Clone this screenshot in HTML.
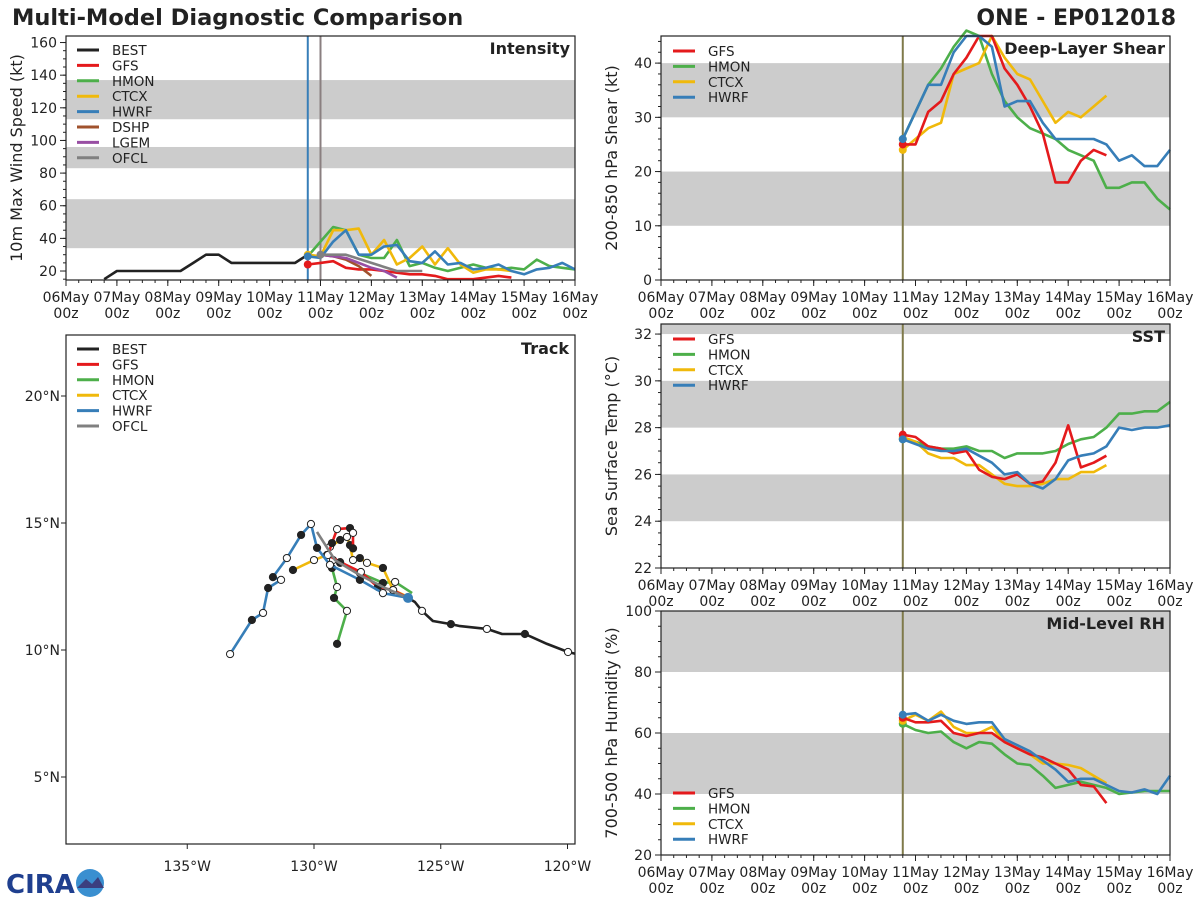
<!DOCTYPE html>
<html><head><meta charset="utf-8"><style>
html,body{margin:0;padding:0;background:#fff;}
svg text{font-family:"DejaVu Sans","Liberation Sans",sans-serif;}
</style></head><body>
<svg id="c" width="1200" height="900" viewBox="0 0 1200 900" xmlns="http://www.w3.org/2000/svg">
<defs><clipPath id="trackclip"><rect x="66" y="335" width="509" height="509"/></clipPath></defs>
<text x="12" y="25" font-size="22.5" font-weight="bold" fill="#222">Multi-Model Diagnostic Comparison</text>
<text x="1176" y="25" font-size="22" font-weight="bold" fill="#222" text-anchor="end">ONE - EP012018</text>
<g>
<text x="6" y="893" font-size="26" font-weight="bold" fill="#1f3f8f" font-family="Liberation Sans">CIRA</text>
<circle cx="90" cy="883" r="14" fill="#3a8fd0"/>
<path d="M77 888 L86 879 L92 884 L98 877 L104 888 Z" fill="#3b3f7f"/>
</g>
</svg>
<script>
// ---------- DATA ----------
const dayLabels = ["06May","07May","08May","09May","10May","11May","12May","13May","14May","15May","16May"];
const bestHours = [18,24,30,36,42,48,54,60,66,72,78,84,90,96,102,108,114];
const bestVmax = [15,20,20,20,20,20,20,25,30,30,25,25,25,25,25,25,30];
const modelStart = 114;
const gfsVmax  = [24,25,26,22,21,21,20,19,18,18,17,15,15,15,16,17,16];
const hmonVmax = [29,38,47,45,30,28,28,39,23,25,22,20,22,24,22,21,22,21,27,23,22,21];
const ctcxVmax = [30,29,45,45,46,30,39,24,28,35,24,34,24,19,21,21,20];
const hwrfVmax = [29,28,38,45,30,30,35,36,26,25,32,24,25,21,22,24,20,18,21,22,25,21];
const dshpVmax = [30,29,27,23,17];
const lgemVmax = [30,29,28,25,22,20,16];
const ofclHours = [120,132,144,156,168];
const ofclVmax = [30,30,25,20,20];
const vmaxTicks = [20,40,60,80,100,120,140,160];

const gfsShear  = [25,25,31,33,38,41,45,45,39,36,32,27,18,18,22,24,23];
const hmonShear = [26,31,36,39,43,46,45,38,33,30,28,27,26,24,23,22,17,17,18,18,15,13];
const ctcxShear = [24,26,28,29,38,39,40,45,41,38,37,33,29,31,30,32,34];
const hwrfShear = [26,31,36,36,42,45,45,43,32,33,33,29,26,26,26,26,25,22,23,21,21,24];
const shearTicks = [0,10,20,30,40];

const gfsSst  = [27.7,27.6,27.2,27.1,26.9,27.0,26.2,25.9,25.8,26.0,25.6,25.7,26.5,28.1,26.3,26.5,26.8];
const hmonSst = [27.5,27.4,27.2,27.1,27.1,27.2,27.0,27.0,26.7,26.9,26.9,26.9,27.0,27.3,27.5,27.6,28.0,28.6,28.6,28.7,28.7,29.1];
const ctcxSst = [27.6,27.4,26.9,26.7,26.7,26.4,26.4,26.0,25.6,25.5,25.5,25.6,25.8,25.8,26.1,26.1,26.4];
const hwrfSst = [27.5,27.3,27.1,27.0,27.0,27.1,26.8,26.5,26.0,26.1,25.6,25.4,25.8,26.6,26.8,26.9,27.2,28.0,27.9,28.0,28.0,28.1];
const sstTicks = [22,24,26,28,30,32];

const gfsRh  = [65,63.5,63.5,64,60,59,60,60,57,55,53,52,50,48,43,42.5,37];
const hmonRh = [63,61,60,60.5,57,55,57,56.5,53,50,49.5,46,42,43,44,43,42,40,40.5,41,41,41];
const ctcxRh = [64,66,64,67,62,60,60,62,57,55,53,50,50,49.5,48.5,46,43.5];
const hwrfRh = [66,66.5,64,66,64,63,63.5,63.5,58,56,54,51,48,44,45,45,43,41,40.5,41.5,40,46];
const rhTicks = [20,40,60,80,100];

const bestTrackLon = [-119.4,-119.98,-120.81,-121.68,-122.58,-123.18,-124.24,-124.6,-125.31,-125.74,-126.02,-126.29];
const bestTrackLat = [9.78,9.92,10.24,10.63,10.63,10.83,10.94,11.02,11.14,11.54,11.89,12.05];
const gfsTrackLon = [-126.29,-126.88,-127.48,-128.15,-128.97,-129.45,-129.29,-129.09,-128.58,-128.46,-128.46];
const gfsTrackLat = [12.05,12.36,12.48,13.07,13.46,13.74,14.21,14.76,14.8,14.61,14.0];
const hmonTrackLon = [-126.13,-126.8,-127.28,-128.19,-128.97,-129.25,-129.29,-129.09,-129.21,-128.7,-129.09];
const hmonTrackLat = [12.24,12.68,12.64,13.03,13.43,13.54,13.23,12.48,12.05,11.54,10.24];
const ctcxTrackLon = [-126.21,-126.88,-127.28,-127.91,-128.19,-128.46,-128.58,-128.7,-128.97,-129.37,-129.49,-130.0,-130.83];
const ctcxTrackLat = [12.05,12.36,13.23,13.43,13.62,13.54,14.13,14.45,14.33,14.06,13.74,13.54,13.15];
const hwrfTrackLon = [-126.29,-127.28,-128.19,-129.37,-129.88,-130.12,-130.51,-131.07,-131.62,-131.3,-131.81,-132.01,-132.45,-133.31];
const hwrfTrackLat = [12.05,12.24,12.76,13.35,14.02,14.96,14.53,13.62,12.87,12.76,12.44,11.46,11.18,9.84];
const ofclTrackLon = [-126.29,-127.2,-128.19,-129.17,-129.88];
const ofclTrackLat = [12.05,12.44,12.95,13.54,14.65];
const lonTicks = [-135,-130,-125,-120];
const latTicks = [5,10,15,20];

// ---------- DRAW ----------
const NS="http://www.w3.org/2000/svg";
const svg=document.getElementById('c');
const C={BEST:"#222",GFS:"#e41a1c",HMON:"#4daf4a",CTCX:"#f0b90b",HWRF:"#377eb8",DSHP:"#a0522d",LGEM:"#984ea3",OFCL:"#808080"};
function el(tag,attrs,parent){const e=document.createElementNS(NS,tag);for(const k in attrs)e.setAttribute(k,attrs[k]);(parent||svg).appendChild(e);return e;}
function txt(x,y,s,size,anchor,parent,weight){const t=el('text',{x:x,y:y,'font-size':size,'text-anchor':anchor||'start',fill:'#222'},parent);if(weight)t.setAttribute('font-weight',weight);t.textContent=s;return t;}

function timePanel(name,L,T,R,B,ymin,ymax,bands,ticks,minorStep,ylabel,title){
  const g=el('g',{});
  
  
  const xs=h=>L+(R-L)*h/240;
  const ys=v=>B-(B-T)*(v-ymin)/(ymax-ymin);
  bands.forEach(b=>{const lo=Math.max(b[0],ymin),hi=Math.min(b[1],ymax);
    const r=el('rect',{x:L,y:ys(hi),width:R-L,height:ys(lo)-ys(hi),fill:'#cccccc'},g);
    
    });
  const gy=el('g',{},g);
  
  
  ticks.forEach(v=>{el('line',{x1:L-6,x2:L,y1:ys(v),y2:ys(v),stroke:'#222'},gy);txt(L-9,ys(v)+5,String(v),14,'end',gy);});
  for(let v=Math.ceil(ymin/minorStep)*minorStep;v<=ymax;v+=minorStep){el('line',{x1:L-3,x2:L,y1:ys(v),y2:ys(v),stroke:'#222'},gy);}
  const gx=el('g',{},g);
  
  
  dayLabels.forEach((d,i)=>{const x=xs(i*24);el('line',{x1:x,x2:x,y1:B,y2:B+6,stroke:'#222'},gx);txt(x,B+22,d,14,'middle',gx);txt(x,B+38,'00z',14,'middle',gx);});
  for(let h=0;h<=240;h+=6){const x=xs(h);el('line',{x1:x,x2:x,y1:B,y2:B+3,stroke:'#222'},gx);}
  const yl=txt(0,0,ylabel,16,'middle',g);yl.setAttribute('transform',`translate(${L-44},${(T+B)/2}) rotate(-90)`);
  
  
  const tt=txt(R-5,T+18,title,16,'end',g,'bold');
  
  
  return {g,xs,ys,L,T,R,B,close(){const f=el('rect',{x:L,y:T,width:R-L,height:B-T,fill:'none',stroke:'#222','stroke-width':1.2},g);}};
}
function series(p,hours,vals,color,nm,dot){
  const pts=vals.map((v,i)=>p.xs(hours[i]).toFixed(1)+','+p.ys(v).toFixed(1)).join(' ');
  const pl=el('polyline',{points:pts,fill:'none',stroke:color,'stroke-width':2.6,'stroke-linejoin':'round'},p.g);
  
  
  if(dot){const c=el('circle',{cx:p.xs(hours[0]),cy:p.ys(vals[0]),r:4,fill:color},p.g);
    
    }
}
const hrs=n=>Array.from({length:n},(_,i)=>modelStart+6*i);
function legend(p,names,x,y,dy,g){
  names.forEach((n,i)=>{const e=el('g',{},g||p.g);
    
    
    el('line',{x1:x,x2:x+22,y1:y+i*dy,y2:y+i*dy,stroke:C[n],'stroke-width':3},e);
    txt(x+35,y+i*dy+5,n,13.5,'start',e);});
}
function initLine(p,x,color){const l=el('line',{x1:x,x2:x,y1:p.T,y2:p.B,stroke:color,'stroke-width':2},p.g);
  
  }

// Intensity
const pI=timePanel('intensity',66,36,575,280,14.5,164,[[34,64],[83,96],[113,137]],vmaxTicks,5,'10m Max Wind Speed (kt)','Intensity');
initLine(pI,pI.xs(114),'#377eb8');initLine(pI,pI.xs(120),'#8a7f80');
series(pI,bestHours,bestVmax,C.BEST,'best');
series(pI,hrs(hmonVmax.length),hmonVmax,C.HMON,'hmon');
series(pI,hrs(ctcxVmax.length),ctcxVmax,C.CTCX,'ctcx',true);
series(pI,hrs(hwrfVmax.length),hwrfVmax,C.HWRF,'hwrf',true);
series(pI,hrs(gfsVmax.length),gfsVmax,C.GFS,'gfs',true);
series(pI,[120,126,132,138,144],dshpVmax,C.DSHP,'dshp');
series(pI,[120,126,132,138,144,150,156],lgemVmax,C.LGEM,'lgem');
series(pI,ofclHours,ofclVmax,C.OFCL,'ofcl',true);
legend(pI,["BEST","GFS","HMON","CTCX","HWRF","DSHP","LGEM","OFCL"],77,50,15.4);
pI.close();

// Shear
const pS=timePanel('shear',661,36,1170,280,0,45,[[10,20],[30,40]],shearTicks,2,'200-850 hPa Shear (kt)','Deep-Layer Shear');
initLine(pS,pS.xs(114),'#7f7a4a');
series(pS,hrs(hmonShear.length),hmonShear,C.HMON,'hmon',true);
series(pS,hrs(ctcxShear.length),ctcxShear,C.CTCX,'ctcx',true);
series(pS,hrs(gfsShear.length),gfsShear,C.GFS,'gfs',true);
series(pS,hrs(hwrfShear.length),hwrfShear,C.HWRF,'hwrf',true);
legend(pS,["GFS","HMON","CTCX","HWRF"],673,51,15.4);
pS.close();

// SST
const pT=timePanel('sst',661,324,1170,568,22,32.43,[[24,26],[28,30],[32,33]],sstTicks,0.5,'Sea Surface Temp (°C)','SST');
initLine(pT,pT.xs(114),'#7f7a4a');
series(pT,hrs(hmonSst.length),hmonSst,C.HMON,'hmon',true);
series(pT,hrs(ctcxSst.length),ctcxSst,C.CTCX,'ctcx',true);
series(pT,hrs(gfsSst.length),gfsSst,C.GFS,'gfs',true);
series(pT,hrs(hwrfSst.length),hwrfSst,C.HWRF,'hwrf',true);
legend(pT,["GFS","HMON","CTCX","HWRF"],673,339,15.4);
pT.close();

// RH
const pR=timePanel('rh',661,611,1170,855,20,100,[[40,60],[80,100]],rhTicks,5,'700-500 hPa Humidity (%)','Mid-Level RH');
initLine(pR,pR.xs(114),'#7f7a4a');
series(pR,hrs(hmonRh.length),hmonRh,C.HMON,'hmon',true);
series(pR,hrs(ctcxRh.length),ctcxRh,C.CTCX,'ctcx',true);
series(pR,hrs(gfsRh.length),gfsRh,C.GFS,'gfs',true);
series(pR,hrs(hwrfRh.length),hwrfRh,C.HWRF,'hwrf',true);
legend(pR,["GFS","HMON","CTCX","HWRF"],673,793,15.4);
pR.close();

// Track
const gT=el('g',{});


const TL=66,TT=335,TR=575,TB=844;
const lx=lon=>314+(lon+130)*25.35;
const ly=lat=>523-(lat-15)*25.4;
el('rect',{x:TL,y:TT,width:TR-TL,height:TB-TT,fill:'#fff'},gT);
const gTx=el('g',{},gT);


lonTicks.forEach(v=>{const x=lx(v);el('line',{x1:x,x2:x,y1:TB,y2:TB+5,stroke:'#222'},gTx);txt(x,TB+27,Math.abs(v)+'°W',14,'middle',gTx);});
const gTy=el('g',{},gT);


latTicks.forEach(v=>{const y=ly(v);el('line',{x1:TL-5,x2:TL,y1:y,y2:y,stroke:'#222'},gTy);txt(TL-6,y+5,v+'°N',14,'end',gTy);});
const gClip=el('g',{'clip-path':'url(#trackclip)'},gT);
function track(lons,lats,color,nm,markers){
  const g=el('g',{},gClip);
  
  
  el('polyline',{points:lons.map((v,i)=>lx(v).toFixed(1)+','+ly(lats[i]).toFixed(1)).join(' '),fill:'none',stroke:color,'stroke-width':2.6,'stroke-linejoin':'round'},g);
  if(markers)lons.forEach((v,i)=>{
    let fill;
    if(nm==='best'){ if(i%2===0) return; fill=((i-1)/2)%2?'#222':'#fff'; if(i===lons.length-1) return; }
    else { if(i===0) return; fill=i%2?'#fff':'#222'; }
    el('circle',{cx:lx(v),cy:ly(lats[i]),r:3.6,fill:fill,stroke:'#222','stroke-width':1},g);});
}
track(bestTrackLon,bestTrackLat,C.BEST,'best',true);
track(hmonTrackLon,hmonTrackLat,C.HMON,'hmon',true);
track(ctcxTrackLon,ctcxTrackLat,C.CTCX,'ctcx',true);
track(gfsTrackLon,gfsTrackLat,C.GFS,'gfs',true);
track(hwrfTrackLon,hwrfTrackLat,C.HWRF,'hwrf',true);
track(ofclTrackLon,ofclTrackLat,C.OFCL,'ofcl',false);
const sp=el('circle',{cx:lx(hwrfTrackLon[0]),cy:ly(hwrfTrackLat[0]),r:5,fill:C.HWRF},gT);


const ttl=txt(TR-6,TT+19,'Track',16,'end',gT,'bold');


legend(null,["BEST","GFS","HMON","CTCX","HWRF","OFCL"],77,349,15.4,gT);
el('rect',{x:TL,y:TT,width:TR-TL,height:TB-TT,fill:'none',stroke:'#222','stroke-width':1.2},gT);
</script>
</body></html>
